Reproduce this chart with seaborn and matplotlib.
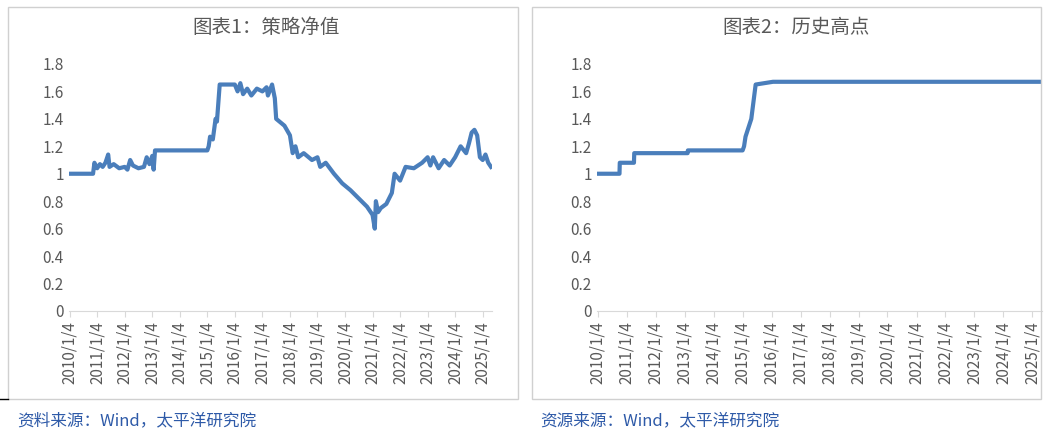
import matplotlib
matplotlib.use("Agg")
import matplotlib.pyplot as plt
import seaborn as sns
import pandas as pd
import numpy as np
from matplotlib.patches import Rectangle

plt.rcParams["font.family"] = ["Noto Sans CJK SC", "DejaVu Sans"]

# strategy net value (year fraction, value)
nav_t = [2010.0, 2010.85, 2010.9, 2011.0, 2011.1, 2011.2, 2011.3, 2011.4, 2011.45, 2011.6, 2011.8, 2012.0, 2012.1, 2012.2,
         2012.3, 2012.5, 2012.7, 2012.8, 2012.9, 2013.0, 2013.05, 2013.1, 2015.0, 2015.05, 2015.1, 2015.2, 2015.3, 2015.35,
         2015.45, 2016.0, 2016.1, 2016.2, 2016.3, 2016.45, 2016.6, 2016.8, 2017.0, 2017.15, 2017.2, 2017.35, 2017.45,
         2017.5, 2017.8, 2018.0, 2018.1, 2018.2, 2018.3, 2018.5, 2018.8, 2019.0, 2019.1, 2019.3, 2019.6, 2019.9,
         2020.2, 2020.5, 2020.8, 2021.0, 2021.08, 2021.12, 2021.2, 2021.3, 2021.5, 2021.7, 2021.8, 2022.0, 2022.2,
         2022.5, 2022.8, 2023.0, 2023.1, 2023.2, 2023.4, 2023.6, 2023.8, 2024.0, 2024.2, 2024.4, 2024.5, 2024.6,
         2024.7, 2024.8, 2024.9, 2025.0, 2025.1, 2025.2, 2025.3]
nav_v = [1.0, 1.0, 1.08, 1.04, 1.07, 1.05, 1.08, 1.14, 1.05, 1.07, 1.04, 1.05, 1.03, 1.1, 1.06, 1.04, 1.05, 1.12, 1.07,
         1.13, 1.03, 1.17, 1.17, 1.2, 1.27, 1.25, 1.4, 1.38, 1.65, 1.65, 1.6, 1.66, 1.58, 1.62, 1.57, 1.62, 1.6, 1.63,
         1.57, 1.65, 1.55, 1.4, 1.35, 1.28, 1.15, 1.2, 1.12, 1.15, 1.1, 1.12, 1.05, 1.08, 1.0, 0.93, 0.88, 0.82, 0.76,
         0.7, 0.6, 0.8, 0.72, 0.75, 0.78, 0.86, 1.0, 0.95, 1.05, 1.04, 1.08, 1.12, 1.06, 1.12, 1.04, 1.1, 1.06, 1.12,
         1.2, 1.15, 1.22, 1.3, 1.32, 1.28, 1.12, 1.1, 1.14, 1.08, 1.05]
# historical high
hi_t = [2010.0, 2010.75, 2010.76, 2011.25, 2011.26, 2013.1, 2013.11, 2015.0, 2015.05, 2015.1, 2015.3, 2015.45, 2016.05, 2025.3]
hi_v = [1.0, 1.0, 1.08, 1.08, 1.15, 1.15, 1.17, 1.17, 1.2, 1.27, 1.4, 1.65, 1.67, 1.67]
years = list(range(2010, 2026))
tick_labels = [f"{y}/1/4" for y in years]
titles = ["图表1：策略净值", "图表2：历史高点"]
sources = ["资料来源：Wind，太平洋研究院", "资源来源：Wind，太平洋研究院"]

def todate(t):
    t = np.asarray(t)
    y = np.floor(t).astype(int)
    return pd.to_datetime([f"{yy}-01-04" for yy in y]) + pd.to_timedelta((t - y) * 365.25, unit="D")

fig = plt.figure(figsize=(10.54, 4.38), dpi=100)
color = "#4a7ebb"
for i, (t, v) in enumerate([(nav_t, nav_v), (hi_t, hi_v)]):
    left = [0.065, 0.566][i]
    width = [0.402, 0.423][i]
    ax = fig.add_axes([left, 0.29, width, 0.564])
    df = pd.DataFrame({"d": todate(t), "v": v})
    sns.lineplot(data=df, x="d", y="v", ax=ax, color=color, lw=3)
    ax.set_ylim(0, 1.8)
    ax.set_yticks(np.round(np.arange(0, 1.81, 0.2), 1))
    ax.set_yticklabels(["0" if k == 0 else ("1" if abs(k - 1) < 1e-9 else f"{k:.1f}") for k in np.arange(0, 1.81, 0.2)])
    ticks = pd.to_datetime([f"{y}-01-04" for y in years])
    ax.set_xticks(ticks)
    ax.set_xticklabels(tick_labels, rotation=90)
    ax.set_xlim(pd.Timestamp("2009-12-20"), pd.Timestamp("2025-05-10"))
    ax.set_xlabel(""); ax.set_ylabel("")
    for s in ["top", "right", "left"]:
        ax.spines[s].set_visible(False)
    ax.spines["bottom"].set_color("#d9d9d9")
    ax.tick_params(axis="both", length=0, labelsize=11, colors="#595959")
    ax.tick_params(axis="x", length=4, color="#d9d9d9", direction="out")
    fig.text([0.252, 0.755][i], 0.925, titles[i], ha="center", fontsize=14, color="#595959")
    bx = [0.008, 0.505][i]
    fig.patches.append(Rectangle((bx, 0.09), 0.483, 0.895, transform=fig.transFigure,
                                 fill=False, ec="#d0d0d0", lw=1))
    fig.text(bx + 0.008, 0.03, sources[i], fontsize=12, color="#2e5aa8")
fig.lines.append(plt.Line2D([0, 0.008], [0.09, 0.09], transform=fig.transFigure, color="black", lw=1))
fig.savefig("out.png", dpi=100)
